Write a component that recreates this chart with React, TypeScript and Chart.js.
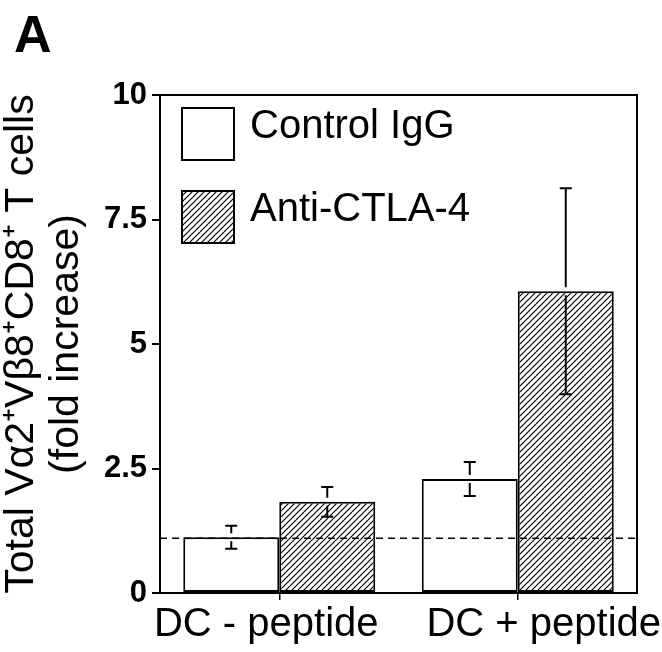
import React, { useEffect, useRef } from "react";
import { Chart, registerables } from "chart.js";

Chart.register(...registerables);

const categories = ["DC - peptide", "DC + peptide"];
const seriesNames = ["Control IgG", "Anti-CTLA-4"];
const controlValues = [1.12, 2.29];
const controlErrors = [0.23, 0.34];
const antiValues = [1.83, 6.06];
const antiErrors = [0.3, 2.07];
const yTicks = [0, 2.5, 5, 7.5, 10];
const baselineValue = 1.1;
const panelLabel = "A";
const yTitle = ["Total Vα2⁺Vβ8⁺CD8⁺ T cells", "(fold increase)"];

const FONT = "'Liberation Sans', Arial, Helvetica, sans-serif";

function makeHatch(): CanvasPattern | string {
  const c = document.createElement("canvas");
  c.width = 6;
  c.height = 6;
  const g = c.getContext("2d");
  if (!g) return "#888";
  g.fillStyle = "#fff";
  g.fillRect(0, 0, 6, 6);
  g.strokeStyle = "#000";
  g.lineWidth = 1.2;
  g.beginPath();
  g.moveTo(0, 6);
  g.lineTo(6, 0);
  g.moveTo(-1, 1);
  g.lineTo(1, -1);
  g.moveTo(5, 7);
  g.lineTo(7, 5);
  g.stroke();
  return g.createPattern(c, "repeat") || "#888";
}

const errorsByDataset = [controlErrors, antiErrors];

const errorBarPlugin = {
  id: "errorBars",
  afterDatasetsDraw(chart: any) {
    const ctx = chart.ctx;
    const y = chart.scales.y;
    ctx.save();
    ctx.strokeStyle = "#000";
    ctx.lineWidth = 2;
    chart.data.datasets.forEach((ds: any, di: number) => {
      const meta = chart.getDatasetMeta(di);
      meta.data.forEach((bar: any, i: number) => {
        const v = ds.data[i];
        const e = errorsByDataset[di][i];
        const x = bar.x;
        const yTop = y.getPixelForValue(v + e);
        const yBot = y.getPixelForValue(v - e);
        const yBar = y.getPixelForValue(v);
        const cap = 6;
        const gap = 4;
        ctx.beginPath();
        ctx.moveTo(x - cap, yTop);
        ctx.lineTo(x + cap, yTop);
        ctx.moveTo(x, yTop);
        ctx.lineTo(x, yBar - gap);
        ctx.moveTo(x, yBar + gap);
        ctx.lineTo(x, yBot);
        ctx.moveTo(x - cap, yBot);
        ctx.lineTo(x + cap, yBot);
        ctx.stroke();
      });
    });
    // dashed baseline
    const area = chart.chartArea;
    const yb = y.getPixelForValue(baselineValue);
    ctx.setLineDash([7, 5]);
    ctx.lineWidth = 1.5;
    ctx.beginPath();
    ctx.moveTo(area.left, yb);
    ctx.lineTo(area.right, yb);
    ctx.stroke();
    ctx.setLineDash([]);
    // frame
    ctx.lineWidth = 2;
    ctx.strokeRect(area.left, area.top, area.right - area.left, area.bottom - area.top);
    ctx.restore();
  },
};

const legendPlugin = {
  id: "insideLegend",
  afterDraw(chart: any) {
    const ctx = chart.ctx;
    const area = chart.chartArea;
    ctx.save();
    chart.data.datasets.forEach((ds: any, di: number) => {
      const bx = area.left + 22;
      const by = area.top + 13 + di * 83;
      ctx.fillStyle = ds.backgroundColor;
      ctx.fillRect(bx, by, 52, 52);
      ctx.strokeStyle = "#000";
      ctx.lineWidth = 2;
      ctx.strokeRect(bx, by, 52, 52);
      ctx.fillStyle = "#000";
      ctx.font = `40px ${FONT}`;
      ctx.textAlign = "left";
      ctx.textBaseline = "middle";
      ctx.fillText(ds.label, bx + 68, by + 19);
    });
    // category labels under the x axis (slightly spread apart, as in the figure)
    const xs = chart.scales.x;
    const shifts = [-13, 26];
    ctx.font = `40px ${FONT}`;
    ctx.textAlign = "center";
    ctx.textBaseline = "middle";
    (chart.data.labels as string[]).forEach((lab: string, i: number) => {
      ctx.fillText(lab, xs.getPixelForValue(i) + (shifts[i] || 0), area.bottom + 32);
    });
    // panel label
    ctx.font = `bold 52px ${FONT}`;
    ctx.textBaseline = "alphabetic";
    ctx.textAlign = "left";
    ctx.fillStyle = "#000";
    ctx.fillText(panelLabel, 14, 52);
    ctx.restore();
  },
};

export default function App() {
  const ref = useRef<HTMLCanvasElement | null>(null);
  useEffect(() => {
    document.body.style.margin = "0";
    if (!ref.current) return;
    Chart.defaults.color = "#000";
    Chart.defaults.font.family = FONT;
    const hatch = makeHatch();
    const chart = new Chart(ref.current, {
      type: "bar",
      data: {
        labels: categories,
        datasets: [
          {
            label: seriesNames[0],
            data: controlValues,
            backgroundColor: "#fff",
            borderColor: "#000",
            borderWidth: 2,
            borderSkipped: false,
            categoryPercentage: 0.805,
            barPercentage: 1,
          },
          {
            label: seriesNames[1],
            data: antiValues,
            backgroundColor: hatch as any,
            borderColor: "#000",
            borderWidth: 2,
            borderSkipped: false,
            categoryPercentage: 0.805,
            barPercentage: 1,
          },
        ],
      },
      options: {
        animation: false,
        responsive: true,
        maintainAspectRatio: false,
        layout: { padding: { top: 95, right: 25, left: 0, bottom: 0 } },
        plugins: {
          legend: { display: false },
          tooltip: { enabled: false },
        },
        scales: {
          x: {
            grid: {
              display: true,
              drawOnChartArea: false,
              drawTicks: true,
              tickLength: 7,
              offset: false,
              color: "#000",
              lineWidth: 1.5,
            },
            border: { display: true, color: "#000", width: 2 },
            ticks: {
              display: false,
              font: { size: 40, family: FONT },
              color: "#000",
              padding: 2,
              maxRotation: 0,
            },
            afterFit(scale: any) {
              scale.height = 59;
            },
          },
          y: {
            min: 0,
            max: 10,
            afterBuildTicks(scale: any) {
              scale.ticks = yTicks.map((v) => ({ value: v }));
            },
            grid: {
              display: true,
              drawOnChartArea: false,
              drawTicks: true,
              tickLength: 8,
              color: "#000",
              lineWidth: 2,
            },
            border: { display: true, color: "#000", width: 2 },
            ticks: {
              font: { size: 31, weight: "bold", family: FONT },
              color: "#000",
              padding: 5,
            },
            title: {
              display: true,
              text: yTitle,
              font: { size: 41, family: FONT, lineHeight: 1.08 },
              color: "#000",
              padding: { top: 0, bottom: 0 },
            },
            afterFit(scale: any) {
              scale.width = 160;
            },
          },
        },
      },
      plugins: [errorBarPlugin, legendPlugin],
    });
    return () => chart.destroy();
  }, []);
  return (
    <div style={{ width: 662, height: 652, position: "relative", background: "#fff" }}>
      <canvas ref={ref} />
    </div>
  );
}
